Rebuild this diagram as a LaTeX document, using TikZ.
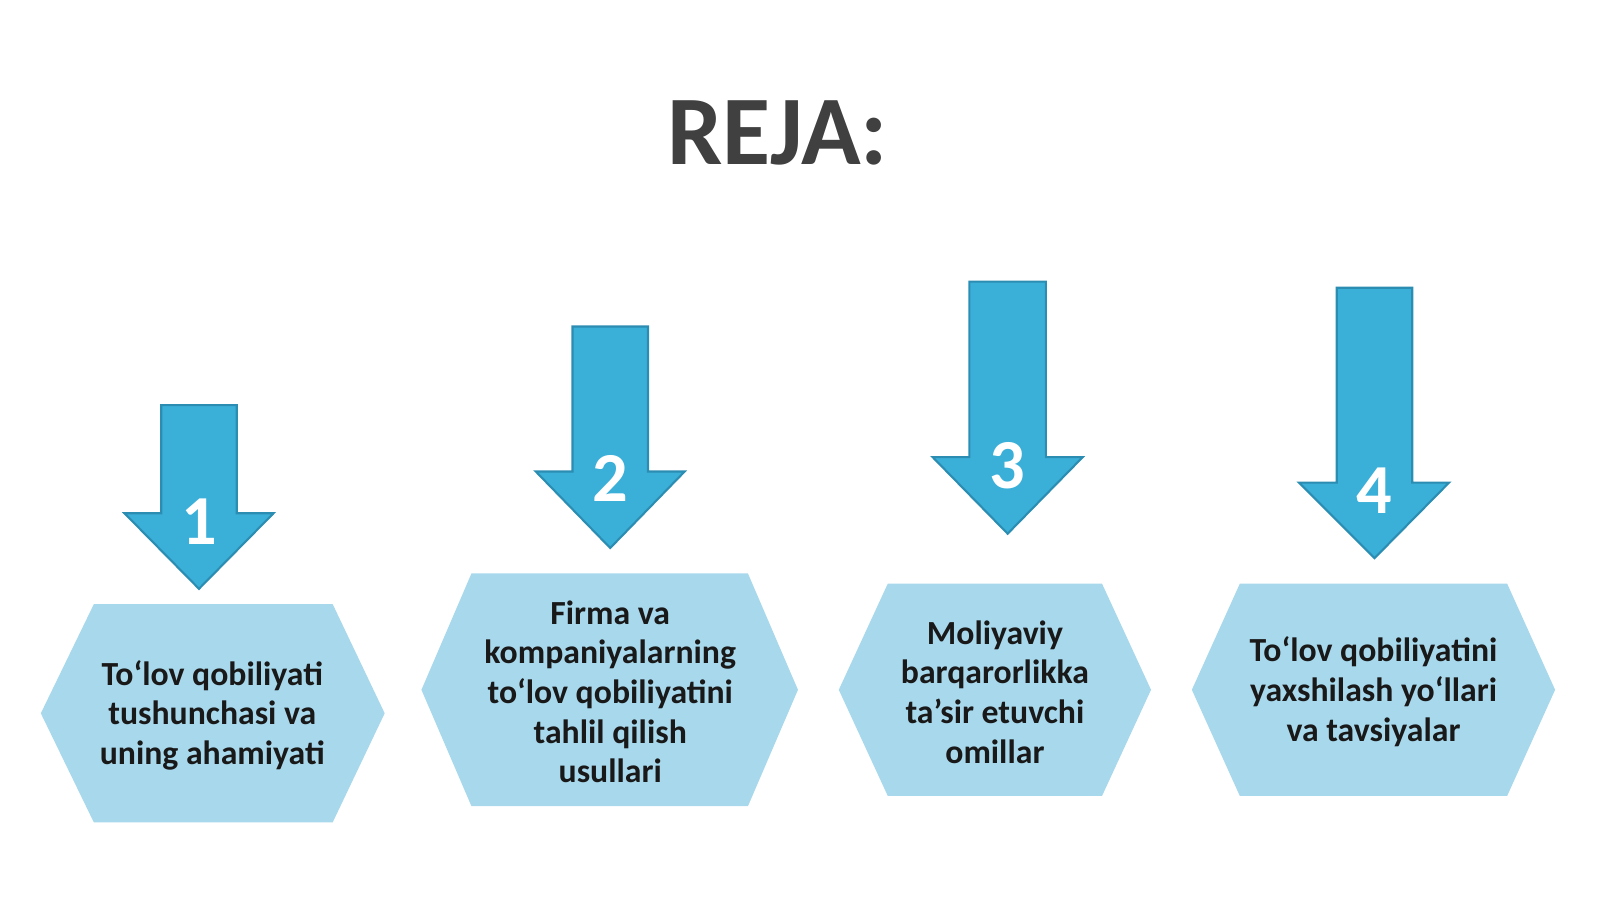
\documentclass[tikz,border=0pt]{standalone}
\usepackage{fontspec}
\setmainfont{Carlito}
\usetikzlibrary{positioning}
\definecolor{titlegray}{HTML}{404040}
\definecolor{arrowblue}{HTML}{3AAFD8}
\definecolor{arrowedge}{HTML}{2C8DB2}
\definecolor{hexblue}{HTML}{A8D8EC}
\tikzset
{
    arrowshape/.style = {fill=arrowblue, draw=arrowedge, line width=0.6pt, line join=miter},
    hexshape/.style   = {fill=hexblue, draw=none},
    numlabel/.style   = {text=white, font=\bfseries\fontsize{20}{20}\selectfont},
    hextext/.style    = {align=center, font=\bfseries\fontsize{9.6}{11.3}\selectfont, text=black!90}
}
% shaft left, shaft right, shaft top, head left, head right, head top, tip
\newcommand\planArrow[7]{%
  \draw[arrowshape] (#1,#3) -- (#2,#3) -- (#2,#6) -- (#5,#6) -- ({(#1+#2)/2},#7)
    -- (#4,#6) -- (#1,#6) -- cycle;}
% left point, top left, top right, right point, top, bottom
\newcommand\planHex[6]{%
  \fill[hexshape] (#1,{(#5+#6)/2}) -- (#2,#5) -- (#3,#5) -- (#4,{(#5+#6)/2})
    -- (#3,#6) -- (#2,#6) -- cycle;}
\begin{document}
\begin{tikzpicture}[x=0.010204cm, y=-0.010204cm]
\useasboundingbox (0,0) rectangle (1568,882);
\node(title) [text=titlegray, font=\bfseries\fontsize{28}{28}\selectfont] at (762,130) {REJA:};
% arrows
\planArrow{158}{232}{397}{122}{268}{503}{577}
\planArrow{561}{635}{320}{525}{671}{462}{537}
\planArrow{950}{1025}{276}{914}{1061}{448}{523}
\planArrow{1310}{1384}{282}{1273}{1420}{473}{547}
\node(n1) [numlabel] at (195,511) {1};
\node(n2) [numlabel] at (598,469) {2};
\node(n3) [numlabel] at (987,456) {3};
\node(n4) [numlabel] at (1347,481) {4};
% hexagons
\planHex{40}{92}{326}{377}{592}{806}
\planHex{413}{462}{733}{782}{562}{790}
\planHex{822}{870}{1080}{1128}{572}{780}
\planHex{1168}{1215}{1477}{1524}{572}{780}
\node(h1) [hextext] at (208,701) {To‘lov qobiliyati\\tushunchasi va\\uning ahamiyati};
\node(h2) [hextext] at (598,678) {Firma va\\kompaniyalarning\\to‘lov qobiliyatini\\tahlil qilish\\usullari};
\node(h3) [hextext] at (975,678) {Moliyaviy\\barqarorlikka\\ta’sir etuvchi\\omillar};
\node(h4) [hextext] at (1346,678) {To‘lov qobiliyatini\\yaxshilash yo‘llari\\va tavsiyalar};
\end{tikzpicture}
\end{document}
